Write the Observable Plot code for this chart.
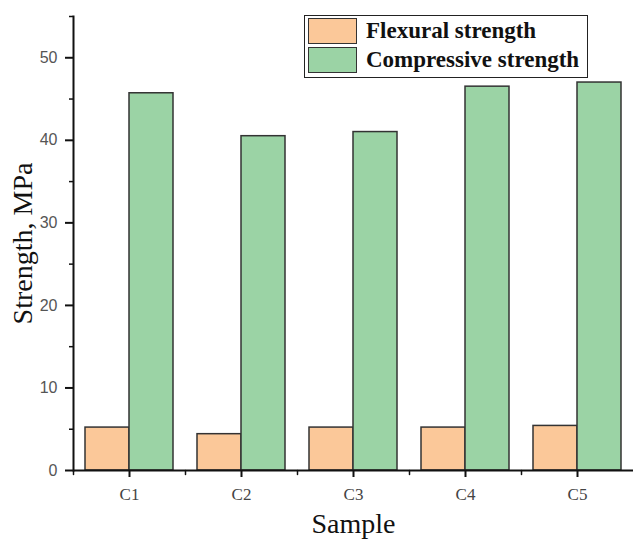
<!DOCTYPE html>
<html>
<head>
<meta charset="utf-8">
<script src="https://cdn.jsdelivr.net/npm/d3@7"></script>
<script src="https://cdn.jsdelivr.net/npm/@observablehq/plot@0.6"></script>
<style>
  html, body { margin: 0; padding: 0; background: #fff; }
  #wrap { position: relative; width: 634px; height: 539px; }
  #wrap svg { font-family: "Liberation Serif", serif; }
  g[aria-label="y-axis tick label"] text { fill: #555; font-size: 16px; font-family: "Liberation Sans", sans-serif; }
  g[aria-label="fx-axis tick label"] text { fill: #444; font-size: 17px; font-family: "Liberation Serif", serif; }
  g[aria-label="y-axis label"] text, g[aria-label="fx-axis label"] text { fill: #111; font-size: 28px; font-family: "Liberation Serif", serif; }
  #legend { position: absolute; left: 304px; top: 15px; width: 282px; height: 61px; border: 1.5px solid #222; background: #fff; font-family: "Liberation Serif", serif; font-weight: bold; font-size: 23px; color: #111; }
  .item { position: absolute; left: 3px; display: flex; align-items: center; white-space: nowrap; }
  .sw { width: 47px; height: 24px; border: 1.5px solid #333; margin-right: 9px; }
</style>
</head>
<body>
<div id="wrap"></div>
<script>
const samples = ["C1", "C2", "C3", "C4", "C5"];
const seriesNames = ["Flexural strength", "Compressive strength"];
const flexural = [5.2, 4.4, 5.2, 5.2, 5.4];
const compressive = [45.7, 40.5, 41.0, 46.5, 47.0];
const colors = ["#fbc899", "#9bd3a5"];
const majorTicks = [0, 10, 20, 30, 40, 50];
const minorTicks = [5, 15, 25, 35, 45, 55];

const data = samples.flatMap((s, i) => [
  {sample: s, series: seriesNames[0], value: flexural[i]},
  {sample: s, series: seriesNames[1], value: compressive[i]}
]);

const chart = Plot.plot({
  width: 634,
  height: 539,
  marginLeft: 72,
  marginRight: 0,
  marginTop: 16,
  marginBottom: 69,
  fx: {domain: samples, paddingInner: 0, paddingOuter: 0},
  x: {domain: seriesNames, paddingInner: 0, paddingOuter: 0.25, axis: null},
  y: {domain: [0, 55]},
  color: {domain: seriesNames, range: colors},
  marks: [
    Plot.barY(data, {fx: "sample", x: "series", y: "value", fill: "series", stroke: "#333", strokeWidth: 1.5}),
    Plot.ruleY([0], {stroke: "#111", strokeWidth: 2}),
    Plot.frame({anchor: "left", facetAnchor: "left", stroke: "#111", strokeWidth: 2}),
    Plot.vector([0], {frameAnchor: "bottom-left", length: 4, rotate: 180, anchor: "start", stroke: "#111", strokeWidth: 1.5, shape: {draw(ctx, l) { ctx.moveTo(0, 0); ctx.lineTo(0, -l); }}}),
    Plot.axisY({ticks: minorTicks, tickSize: 4, tickFormat: () => "", label: null, stroke: "#111", strokeWidth: 1.5, strokeOpacity: 1}),
    Plot.axisY({ticks: majorTicks, tickSize: 8, tickPadding: 8, label: "Strength, MPa", labelArrow: false, labelAnchor: "center", labelOffset: 61, stroke: "#111", strokeWidth: 2, strokeOpacity: 1}),
    Plot.axisFx({anchor: "bottom", tickSize: 7, tickPadding: 10, label: "Sample", labelArrow: false, labelAnchor: "center", labelOffset: 62, stroke: "#111", strokeWidth: 2, strokeOpacity: 1})
  ]
});
const wrap = document.getElementById("wrap");
wrap.appendChild(chart);

const legend = document.createElement("div");
legend.id = "legend";
seriesNames.forEach((name, i) => {
  const item = document.createElement("div");
  item.className = "item";
  item.style.top = (i === 0 ? 2 : 31) + "px";
  const sw = document.createElement("div");
  sw.className = "sw";
  sw.style.background = colors[i];
  const t = document.createElement("span");
  t.textContent = name;
  item.appendChild(sw);
  item.appendChild(t);
  legend.appendChild(item);
});
wrap.appendChild(legend);
</script>
</body>
</html>
